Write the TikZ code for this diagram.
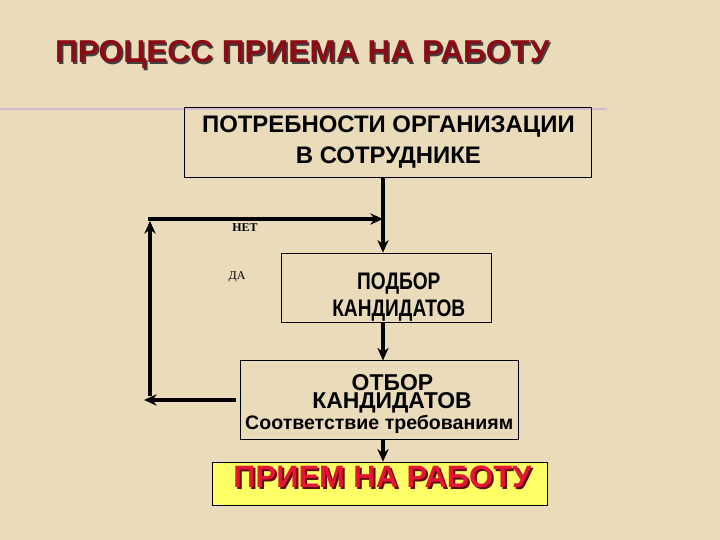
\documentclass[tikz,border=0pt]{standalone}
\usepackage{fontspec}
\setmainfont{Liberation Sans}
\newfontfamily\serifcyr{Liberation Serif}
\usetikzlibrary{arrows.meta}
\definecolor{parchment}{RGB}{234,220,186}
\definecolor{titlered}{RGB}{140,12,22}
\definecolor{hirered}{RGB}{228,22,52}
\definecolor{hireyellow}{RGB}{255,255,102}
\definecolor{rulelilac}{RGB}{212,184,212}
\tikzset{stagebox/.style={draw=black, line width=0.6pt, inner sep=0pt, align=center, font=\bfseries},
  flow/.style={line width=2.2pt, -{Stealth[length=9pt, width=8pt]}},
  answer/.style={font=\serifcyr\bfseries\fontsize{8.5}{10}\selectfont}}

\begin{document}
\begin{tikzpicture}
            \fill[parchment] (0, 0) rectangle (18, 13.5);
            \useasboundingbox (0, 0) rectangle (18, 13.5);
            \node[font=\bfseries\fontsize{22.5}{26}\selectfont, text=black!75] (titleshadow) at (7.6, 12.09) {ПРОЦЕСС ПРИЕМА НА РАБОТУ};
            \node[font=\bfseries\fontsize{22.5}{26}\selectfont, text=titlered] (title) at (7.56, 12.13) {ПРОЦЕСС ПРИЕМА НА РАБОТУ};
            \draw[rulelilac, line width=1.2pt] (0, 10.78) -- (15.18, 10.78);
            \node[stagebox, minimum width=10.175cm, minimum height=1.75cm, font=\bfseries\fontsize{17}{21.5}\selectfont] (needs) at (9.71, 9.95) {ПОТРЕБНОСТИ ОРГАНИЗАЦИИ\\В СОТРУДНИКЕ};
            \node[stagebox, minimum width=5.25cm, minimum height=1.725cm] (search) at (9.65, 6.31) {};
            \node[anchor=base, inner sep=0pt, font=\bfseries\fontsize{17}{20}\selectfont] (searchtop) at (9.97, 6.25) {\scalebox{0.8}[1]{ПОДБОР}};
            \node[anchor=base, inner sep=0pt, font=\bfseries\fontsize{17}{20}\selectfont] (searchbot) at (9.97, 5.59) {\scalebox{0.8}[1]{КАНДИДАТОВ}};
            \node[stagebox, minimum width=6.95cm, minimum height=1.975cm] (select) at (9.475, 3.49) {};
            \node[anchor=base, inner sep=0pt, font=\bfseries\fontsize{16.3}{16}\selectfont] (selecttop) at (9.81, 3.73) {ОТБОР};
            \node[anchor=base, inner sep=0pt, font=\bfseries\fontsize{16.3}{16}\selectfont] (selectmid) at (9.8, 3.28) {КАНДИДАТОВ};
            \node[anchor=base, inner sep=0pt, font=\bfseries\fontsize{13.9}{15}\selectfont] (selectbot) at (9.48, 2.75) {Соответствие требованиям};
            \node[stagebox, fill=hireyellow, minimum width=8.375cm, minimum height=1.075cm] (hire) at (9.51, 1.41) {};
            \node[font=\bfseries\fontsize{22}{24}\selectfont, text=titlered!70!black] (hireshadow) at (9.61, 1.54) {ПРИЕМ НА РАБОТУ};
            \node[font=\bfseries\fontsize{22}{24}\selectfont, text=hirered] (hiretxt) at (9.56, 1.59) {ПРИЕМ НА РАБОТУ};
            \coordinate (join) at (9.575, 8.025);
            \coordinate (cornertop) at (3.75, 8.025);
            \coordinate (cornerbot) at (3.75, 3.5);
            \draw[flow] (join |- needs.south) -- (join |- search.north);
            \draw[flow] (join |- search.south) -- (join |- select.north);
            \draw[flow] (join |- select.south) -- (join |- hire.north);
            \draw[flow] ([xshift=-0.1cm]select.west |- cornerbot) -- ([xshift=-0.15cm]cornerbot);
            \draw[flow] ([yshift=0.1cm]cornerbot) -- ([yshift=-0.05cm]cornertop);
            \draw[flow] ([xshift=-0.04cm]cornertop) -- (join);
            \node[answer] (no) at (6.125, 7.8) {НЕТ};
            \node[answer, font=\serifcyr\fontsize{8.5}{10}\selectfont] (yes) at (5.925, 6.575) {ДА};
        \end{tikzpicture}
\end{document}
